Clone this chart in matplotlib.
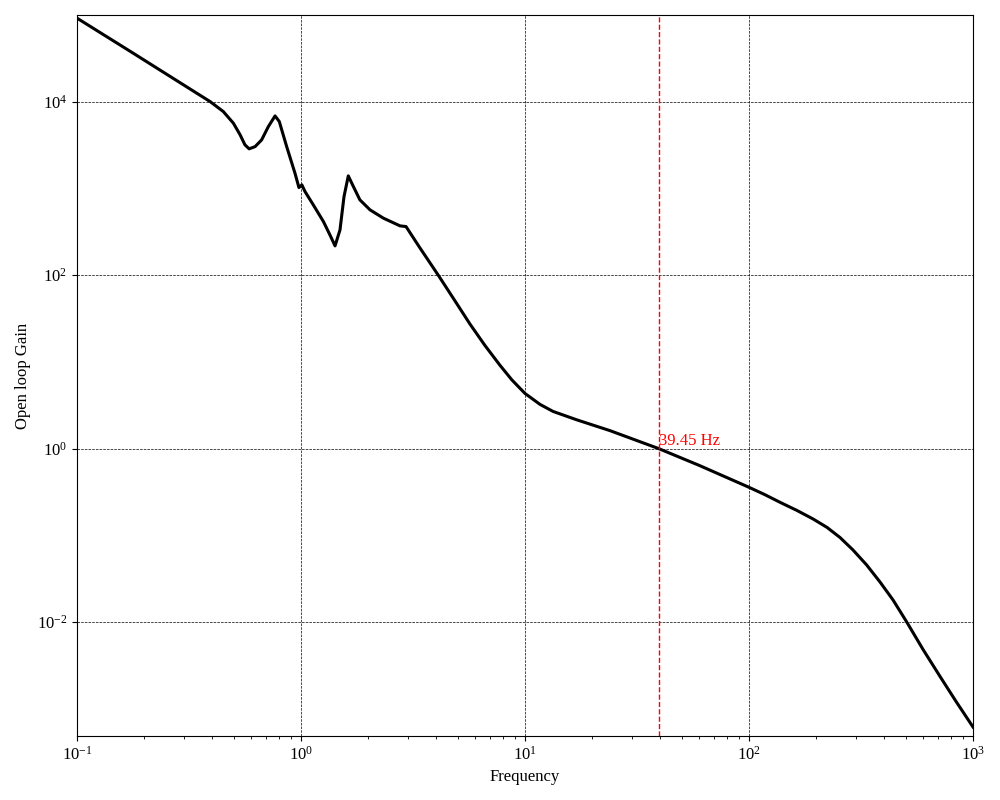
import matplotlib
matplotlib.use("Agg")
import matplotlib.pyplot as plt
from matplotlib.ticker import NullLocator

plt.rcParams["font.family"] = "serif"
plt.rcParams["font.serif"] = ["Liberation Serif", "DejaVu Serif"]
plt.rcParams["mathtext.fontset"] = "stix"

# open loop gain (frequency in Hz)
freq = [0.1, 0.178, 0.319, 0.393, 0.450, 0.499, 0.535, 0.562, 0.587, 0.624,
        0.667, 0.715, 0.766, 0.800, 0.863, 0.940, 0.979, 1.009, 1.042, 1.135,
        1.259, 1.346, 1.419, 1.493, 1.556, 1.626, 1.714, 1.832, 2.032, 2.333,
        2.767, 2.944, 3.396, 4.093, 4.87, 5.675, 6.62, 7.73, 8.74, 10.0,
        11.67, 13.34, 17.06, 23.93, 39.45, 60.0, 100.0, 117.9, 137.4, 163.7,
        193.1, 223.0, 254.7, 291.1, 335.0, 384.6, 439.5, 505.8, 598.4, 712.9,
        839.5, 1000.0]
gain = [92500, 36500, 14130, 10070, 7727, 5675, 4159, 3192, 2871, 3048,
        3639, 5188, 6887, 5929, 3048, 1503, 1026, 1102, 923, 647,
        416, 292, 218, 333, 807, 1400, 1052, 740, 568, 455,
        371, 364, 206.5, 100.7, 50.5, 27.4, 15.5, 9.14, 6.19, 4.32,
        3.23, 2.68, 2.14, 1.61, 1.0, 0.638, 0.357, 0.293, 0.240, 0.193,
        0.154, 0.123, 0.0942, 0.0676, 0.0454, 0.0288, 0.0179, 0.00998, 0.0048, 0.00234,
        0.00121, 0.000612]

f_cross = 39.45

fig, ax = plt.subplots(figsize=(10, 8), dpi=100)
fig.subplots_adjust(left=0.077, right=0.973, top=0.981, bottom=0.08)

ax.loglog(freq, gain, color="k", lw=2.2)
ax.axvline(f_cross, color="red", ls="--", lw=1)
ax.text(f_cross, 1.0, f"{f_cross:.2f} Hz", color="red", fontsize=12, va="bottom")

ax.set_xlim(0.1, 1000)
ax.set_ylim(10 ** -3.317, 1e5)
ax.set_yticks([1e-2, 1e0, 1e2, 1e4])
ax.yaxis.set_minor_locator(NullLocator())
ax.grid(True, which="major", color="k", ls="--", lw=0.5)
ax.set_xlabel("Frequency", fontsize=12)
ax.set_ylabel("Open loop Gain", fontsize=12)
ax.tick_params(labelsize=12)

fig.savefig("out.png")
